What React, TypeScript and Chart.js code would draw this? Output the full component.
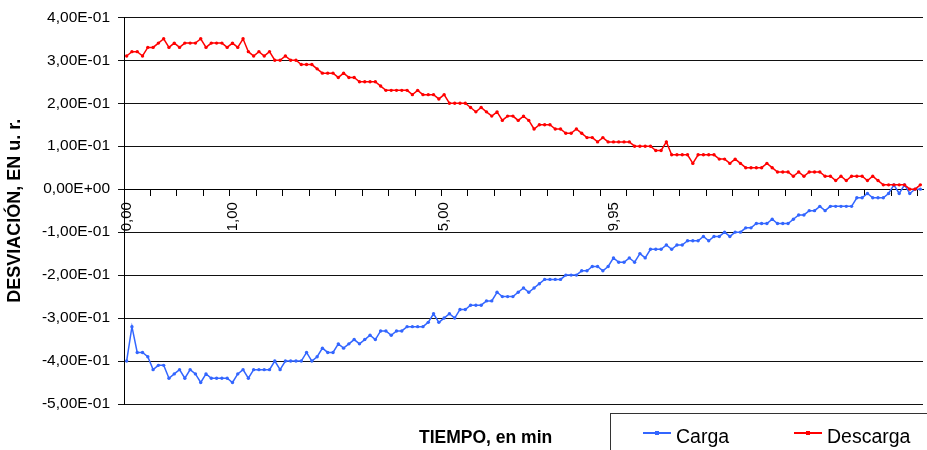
import React, { useEffect, useRef } from "react";
import { Chart, registerables } from "chart.js";

Chart.register(...registerables);

// Deviation values (u. r.) per sample
const CARGA = [
  -0.40, -0.32, -0.38, -0.38, -0.39, -0.42, -0.41, -0.41, -0.44, -0.43,
  -0.42, -0.44, -0.42, -0.43, -0.45, -0.43, -0.44, -0.44, -0.44, -0.44,
  -0.45, -0.43, -0.42, -0.44, -0.42, -0.42, -0.42, -0.42, -0.40, -0.42,
  -0.40, -0.40, -0.40, -0.40, -0.38, -0.40, -0.39, -0.37, -0.38, -0.38,
  -0.36, -0.37, -0.36, -0.35, -0.36, -0.35, -0.34, -0.35, -0.33, -0.33,
  -0.34, -0.33, -0.33, -0.32, -0.32, -0.32, -0.32, -0.31, -0.29, -0.31,
  -0.30, -0.29, -0.30, -0.28, -0.28, -0.27, -0.27, -0.27, -0.26, -0.26,
  -0.24, -0.25, -0.25, -0.25, -0.24, -0.23, -0.24, -0.23, -0.22, -0.21,
  -0.21, -0.21, -0.21, -0.20, -0.20, -0.20, -0.19, -0.19, -0.18, -0.18,
  -0.19, -0.18, -0.16, -0.17, -0.17, -0.16, -0.17, -0.15, -0.16, -0.14,
  -0.14, -0.14, -0.13, -0.14, -0.13, -0.13, -0.12, -0.12, -0.12, -0.11,
  -0.12, -0.11, -0.11, -0.10, -0.11, -0.10, -0.10, -0.09, -0.09, -0.08,
  -0.08, -0.08, -0.07, -0.08, -0.08, -0.08, -0.07, -0.06, -0.06, -0.05,
  -0.05, -0.04, -0.05, -0.04, -0.04, -0.04, -0.04, -0.04, -0.02, -0.02,
  -0.01, -0.02, -0.02, -0.02, -0.01, 0.01, -0.01, 0.01, -0.01, 0.00,
  0.00,
];

const DESCARGA = [
  0.31, 0.32, 0.32, 0.31, 0.33, 0.33, 0.34, 0.35, 0.33, 0.34,
  0.33, 0.34, 0.34, 0.34, 0.35, 0.33, 0.34, 0.34, 0.34, 0.33,
  0.34, 0.33, 0.35, 0.32, 0.31, 0.32, 0.31, 0.32, 0.30, 0.30,
  0.31, 0.30, 0.30, 0.29, 0.29, 0.29, 0.28, 0.27, 0.27, 0.27,
  0.26, 0.27, 0.26, 0.26, 0.25, 0.25, 0.25, 0.25, 0.24, 0.23,
  0.23, 0.23, 0.23, 0.23, 0.22, 0.23, 0.22, 0.22, 0.22, 0.21,
  0.22, 0.20, 0.20, 0.20, 0.20, 0.19, 0.18, 0.19, 0.18, 0.17,
  0.18, 0.16, 0.17, 0.17, 0.16, 0.17, 0.16, 0.14, 0.15, 0.15,
  0.15, 0.14, 0.14, 0.13, 0.13, 0.14, 0.13, 0.12, 0.12, 0.11,
  0.12, 0.11, 0.11, 0.11, 0.11, 0.11, 0.10, 0.10, 0.10, 0.10,
  0.09, 0.09, 0.11, 0.08, 0.08, 0.08, 0.08, 0.06, 0.08, 0.08,
  0.08, 0.08, 0.07, 0.07, 0.06, 0.07, 0.06, 0.05, 0.05, 0.05,
  0.05, 0.06, 0.05, 0.04, 0.04, 0.04, 0.03, 0.04, 0.03, 0.04,
  0.04, 0.04, 0.03, 0.03, 0.02, 0.03, 0.02, 0.03, 0.03, 0.03,
  0.02, 0.03, 0.02, 0.01, 0.01, 0.01, 0.01, 0.01, 0.00, 0.00,
  0.01,
];

// Time labels (min) and the sample index where each appears
const TIME_TEXT = ["0,00", "1,00", "5,00", "9,95"];
const TIME_AT = [0, 20, 60, 92];

const Y_MIN = -0.5;
const Y_MAX = 0.4;
const Y_STEP = 0.1;

const SERIES_NAMES = ["Carga", "Descarga"];
const SERIES_COLORS = ["#3366ff", "#ff0000"];

const FONT = "'Liberation Sans', Arial, Helvetica, sans-serif";

function fmtSci(v: number): string {
  if (Math.abs(v) < 1e-9) return "0,00E+00";
  const s = v.toExponential(2);
  const [m, e] = s.split("e");
  const en = parseInt(e, 10);
  const es = (en < 0 ? "-" : "+") + String(Math.abs(en)).padStart(2, "0");
  return m.replace(".", ",") + "E" + es;
}

function LegendItem({ color, text, left }: { color: string; text: string; left: number }) {
  return (
    <>
      <div
        style={{
          position: "absolute",
          left: left,
          top: 432,
          width: 28,
          height: 1.5,
          background: color,
        }}
      />
      <div
        style={{
          position: "absolute",
          left: left + 12,
          top: 431,
          width: 4,
          height: 4,
          background: color,
        }}
      />
      <span
        style={{
          position: "absolute",
          left: left + 33,
          top: 427,
          fontFamily: FONT,
          fontSize: "19.5px",
          lineHeight: "1",
          color: "#000",
          whiteSpace: "nowrap",
        }}
      >
        {text}
      </span>
    </>
  );
}

export default function App() {
  const canvasRef = useRef<HTMLCanvasElement | null>(null);

  useEffect(() => {
    const canvas = canvasRef.current;
    if (!canvas) return;
    const labels = CARGA.map((_, i) => {
      const k = TIME_AT.indexOf(i);
      return k >= 0 ? TIME_TEXT[k] : "";
    });
    const chart = new Chart(canvas, {
      type: "line",
      data: {
        labels,
        datasets: [
          {
            label: SERIES_NAMES[0],
            data: CARGA,
            borderColor: SERIES_COLORS[0],
            backgroundColor: SERIES_COLORS[0],
            pointBackgroundColor: SERIES_COLORS[0],
            pointBorderWidth: 0,
            pointRadius: 1.7,
            borderWidth: 1.5,
            tension: 0,
            order: 2,
          },
          {
            label: SERIES_NAMES[1],
            data: DESCARGA,
            borderColor: SERIES_COLORS[1],
            backgroundColor: SERIES_COLORS[1],
            pointBackgroundColor: SERIES_COLORS[1],
            pointBorderWidth: 0,
            pointRadius: 1.7,
            borderWidth: 1.5,
            tension: 0,
            order: 1,
          },
        ],
      },
      options: {
        responsive: false,
        animation: false,
        layout: { padding: { left: 0, right: 0, top: 15, bottom: 46 } },
        plugins: {
          legend: { display: false },
          tooltip: { enabled: false },
        },
        scales: {
          x: {
            type: "category",
            position: { y: 0 } as any,
            offset: true,
            grid: {
              offset: true,
              drawOnChartArea: false,
              drawTicks: true,
              tickLength: 6,
              lineWidth: 1,
              color: (ctx: any) =>
                ctx.index !== undefined && ctx.index % 5 === 0 ? "#000" : "rgba(0,0,0,0)",
            },
            border: { display: true, color: "#000", width: 1 },
            ticks: {
              autoSkip: false,
              minRotation: 90,
              maxRotation: 90,
              padding: 7,
              color: "#000",
              font: { family: FONT, size: 15 },
            },
            afterFit: (s: any) => {
              s.paddingLeft = 0;
              s.paddingRight = 0;
            },
          },
          y: {
            min: Y_MIN,
            max: Y_MAX,
            ticks: {
              stepSize: Y_STEP,
              padding: 8,
              color: "#000",
              font: { family: FONT, size: 15.5 },
              callback: (v: any) => fmtSci(Number(v)),
            },
            grid: { color: "#111", lineWidth: 1, tickLength: 6, drawTicks: true },
            border: { display: true, color: "#000", width: 1 },
            title: {
              display: true,
              text: "DESVIACIÓN, EN u. r.",
              color: "#000",
              font: { family: FONT, size: 18, weight: "bold" },
              padding: { top: 4, bottom: 0 },
            },
            afterFit: (s: any) => {
              s.width = 124;
            },
          },
        },
      },
    } as any);
    return () => chart.destroy();
  }, []);

  return (
    <div
      style={{
        position: "absolute",
        left: 0,
        top: 0,
        width: 927,
        height: 450,
        overflow: "hidden",
        background: "#fff",
      }}
    >
      <canvas ref={canvasRef} width={927} height={450} style={{ display: "block" }} />
      <span
        style={{
          position: "absolute",
          left: 419,
          top: 429,
          fontFamily: FONT,
          fontWeight: "bold",
          fontSize: "17.5px",
          lineHeight: "1",
          color: "#000",
          whiteSpace: "nowrap",
        }}
      >
        TIEMPO, en min
      </span>
      <div
        style={{
          position: "absolute",
          left: 610,
          top: 413,
          width: 1,
          height: 37,
          background: "#333",
        }}
      />
      <div
        style={{
          position: "absolute",
          left: 610,
          top: 413,
          width: 317,
          height: 1,
          background: "#333",
        }}
      />
      <LegendItem color={SERIES_COLORS[0]} text={SERIES_NAMES[0]} left={643} />
      <LegendItem color={SERIES_COLORS[1]} text={SERIES_NAMES[1]} left={794} />
    </div>
  );
}
